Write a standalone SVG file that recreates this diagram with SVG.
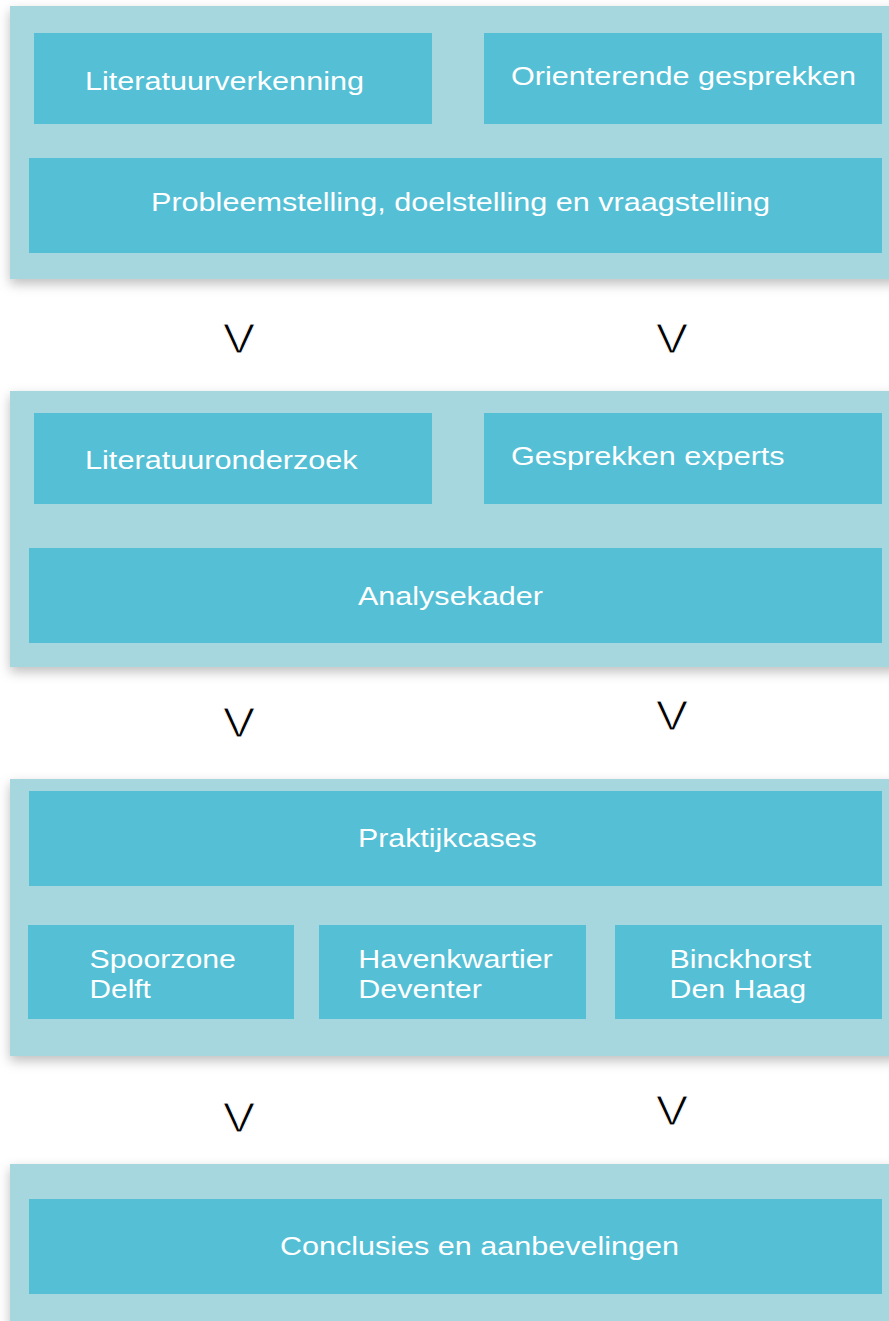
<svg xmlns="http://www.w3.org/2000/svg" width="889" height="1321" viewBox="0 0 889 1321">
<defs>
<filter id="sh" x="-10%" y="-20%" width="130%" height="150%">
<feDropShadow dx="0" dy="5" stdDeviation="6" flood-color="#000" flood-opacity="0.25"/>
</filter>
<style>
.panel{fill:#A6D7DE;filter:url(#sh)}
.box{fill:#54BFD5}
.t{font-family:"Liberation Sans",Arial,sans-serif;font-size:26px;fill:#FFFFFF}
.v{font-family:"Liberation Sans",Arial,sans-serif;font-size:42px;fill:#000000;stroke:#FFFFFF;stroke-width:0.9px}
</style>
</defs>
<rect width="889" height="1321" fill="#FFFFFF"/>
<g id="panel1">
<rect class="panel" x="10" y="6" width="890" height="273"/>
</g>
<g id="panel2">
<rect class="panel" x="10" y="391" width="890" height="276"/>
</g>
<g id="panel3">
<rect class="panel" x="10" y="779" width="890" height="277"/>
</g>
<g id="panel4">
<rect class="panel" x="10" y="1164" width="890" height="180"/>
</g>
<g id="literatuurverkenning">
<rect class="box" x="34" y="33" width="398" height="91"/>
<text class="t" x="85" y="89.5" textLength="279" lengthAdjust="spacingAndGlyphs">Literatuurverkenning</text>
</g>
<g id="orienterende">
<rect class="box" x="484" y="33" width="398" height="91"/>
<text class="t" x="511" y="85" textLength="345" lengthAdjust="spacingAndGlyphs">Orienterende gesprekken</text>
</g>
<g id="probleemstelling">
<rect class="box" x="29" y="158" width="853" height="95"/>
<text class="t" x="151" y="210.7" textLength="619" lengthAdjust="spacingAndGlyphs">Probleemstelling, doelstelling en vraagstelling</text>
</g>
<g id="literatuuronderzoek">
<rect class="box" x="34" y="413" width="398" height="91"/>
<text class="t" x="85" y="469.3" textLength="272.7" lengthAdjust="spacingAndGlyphs">Literatuuronderzoek</text>
</g>
<g id="gesprekken">
<rect class="box" x="484" y="413" width="398" height="91"/>
<text class="t" x="511" y="465.3" textLength="273.6" lengthAdjust="spacingAndGlyphs">Gesprekken experts</text>
</g>
<g id="analysekader">
<rect class="box" x="29" y="548" width="853" height="95"/>
<text class="t" x="358" y="605.3" textLength="185" lengthAdjust="spacingAndGlyphs">Analysekader</text>
</g>
<g id="praktijkcases">
<rect class="box" x="29" y="791" width="853" height="95"/>
<text class="t" x="358" y="847.3" textLength="178.6" lengthAdjust="spacingAndGlyphs">Praktijkcases</text>
</g>
<g id="spoorzone">
<rect class="box" x="28" y="925" width="266" height="94"/>
<text class="t" x="89.6" y="968.3" textLength="146.3" lengthAdjust="spacingAndGlyphs">Spoorzone</text>
<text class="t" x="89.6" y="998" textLength="61.2" lengthAdjust="spacingAndGlyphs">Delft</text>
</g>
<g id="havenkwartier">
<rect class="box" x="319" y="925" width="267" height="94"/>
<text class="t" x="358.3" y="968.3" textLength="194.4" lengthAdjust="spacingAndGlyphs">Havenkwartier</text>
<text class="t" x="358.3" y="998" textLength="123.6" lengthAdjust="spacingAndGlyphs">Deventer</text>
</g>
<g id="binckhorst">
<rect class="box" x="615" y="925" width="267" height="94"/>
<text class="t" x="669.5" y="968.3" textLength="141.7" lengthAdjust="spacingAndGlyphs">Binckhorst</text>
<text class="t" x="669.5" y="998" textLength="136.6" lengthAdjust="spacingAndGlyphs">Den Haag</text>
</g>
<g id="conclusies">
<rect class="box" x="29" y="1199" width="853" height="95"/>
<text class="t" x="280" y="1255.3" textLength="399" lengthAdjust="spacingAndGlyphs">Conclusies en aanbevelingen</text>
</g>
<g id="connectors">
<text class="v" x="223" y="353.3" textLength="32" lengthAdjust="spacingAndGlyphs">V</text>
<text class="v" x="656" y="353.3" textLength="32" lengthAdjust="spacingAndGlyphs">V</text>
<text class="v" x="223" y="736.7" textLength="32" lengthAdjust="spacingAndGlyphs">V</text>
<text class="v" x="656" y="730" textLength="32" lengthAdjust="spacingAndGlyphs">V</text>
<text class="v" x="223" y="1131.7" textLength="32" lengthAdjust="spacingAndGlyphs">V</text>
<text class="v" x="656" y="1125" textLength="32" lengthAdjust="spacingAndGlyphs">V</text>
</g>
</svg>
